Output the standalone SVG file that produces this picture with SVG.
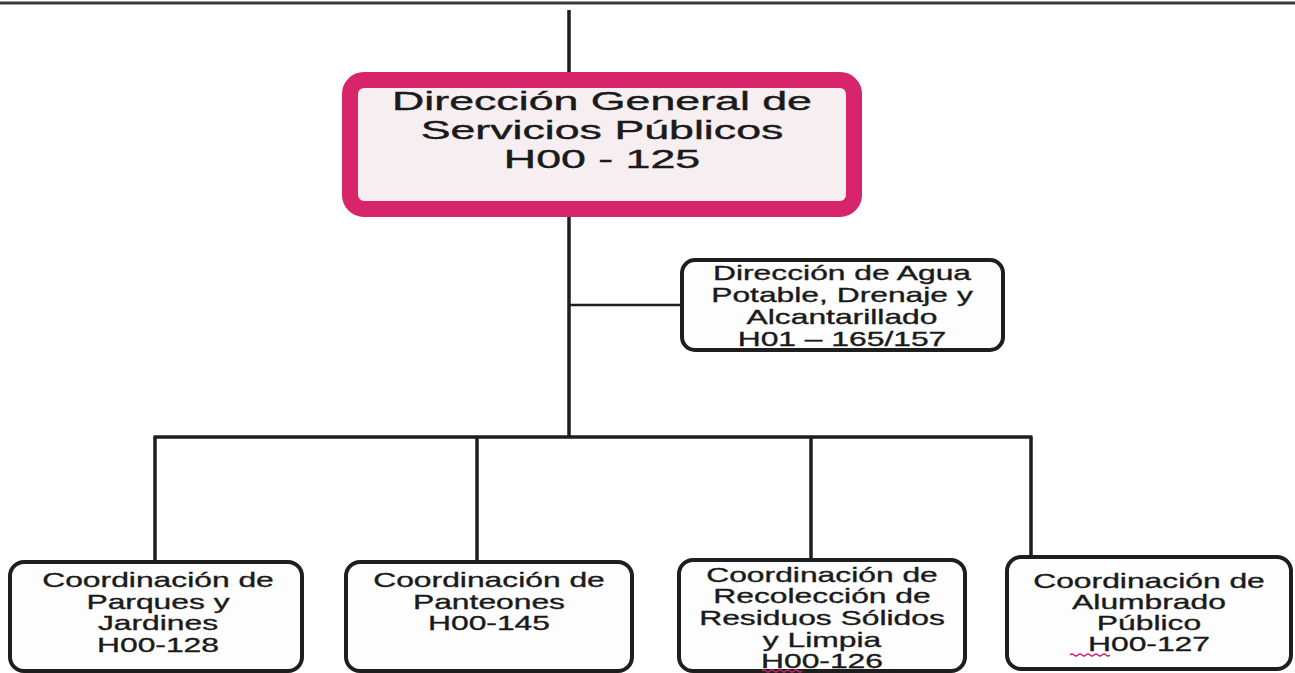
<svg xmlns="http://www.w3.org/2000/svg" width="1295" height="673" viewBox="0 0 1295 673">
  <style>
    .conn { stroke: #1e1e1e; stroke-width: 3.5; fill: none; stroke-linecap: butt; }
    .thin { stroke-width: 2.5; }
    .box { fill: #fdfdfd; stroke: #1e1e1e; stroke-width: 4; }
    .main { fill: #f6eef1; stroke: #d7246a; stroke-width: 16; }
    .t { font-family: "Liberation Sans", Arial, sans-serif; font-size: 21px; fill: #1a1a1a; stroke: #1a1a1a; stroke-width: 0.35; text-anchor: middle; }
    .tm { font-family: "Liberation Sans", Arial, sans-serif; font-size: 26px; fill: #1a1a1a; stroke: #1a1a1a; stroke-width: 0.4; text-anchor: middle; }
    .squig { stroke: #d0206a; stroke-width: 1.2; fill: none; }
  </style>
  <rect width="1295" height="673" fill="#ffffff"/>
  <line x1="0" y1="3" x2="1295" y2="3" stroke="#3a3a3a" stroke-width="3"/>

  <g id="connectors">
    <line class="conn" x1="569" y1="10" x2="569" y2="72"/>
    <line class="conn" x1="569" y1="217" x2="569" y2="437"/>
    <line class="conn thin" x1="569" y1="305" x2="682" y2="305"/>
    <line class="conn" x1="153.5" y1="437" x2="1032.5" y2="437"/>
    <line class="conn" x1="155" y1="437" x2="155" y2="562"/>
    <line class="conn" x1="477" y1="437" x2="477" y2="562"/>
    <line class="conn" x1="811" y1="437" x2="811" y2="560"/>
    <line class="conn" x1="1031" y1="437" x2="1031" y2="557"/>
  </g>

  <g id="node-dgsp">
    <rect class="main" x="350" y="80" width="504" height="129" rx="14"/>
    <g transform="translate(602,0) scale(1.72,1)">
      <text class="tm" x="0" y="110">Dirección General de</text>
      <text class="tm" x="0" y="139">Servicios Públicos</text>
      <text class="tm" x="0" y="168">H00 - 125</text>
    </g>
  </g>

  <g id="node-agua">
    <rect class="box" x="682" y="260" width="321" height="90" rx="13"/>
    <g transform="translate(842,0) scale(1.515,1)">
      <text class="t" x="0" y="280">Dirección de Agua</text>
      <text class="t" x="0" y="302">Potable, Drenaje y</text>
      <text class="t" x="0" y="324">Alcantarillado</text>
      <text class="t" x="0" y="346">H01 – 165/157</text>
    </g>
  </g>

  <g id="node-parques">
    <rect class="box" x="10" y="562" width="292" height="109" rx="14"/>
    <g transform="translate(158,0) scale(1.515,1)">
      <text class="t" x="0" y="587">Coordinación de</text>
      <text class="t" x="0" y="609">Parques y</text>
      <text class="t" x="0" y="630">Jardines</text>
      <text class="t" x="0" y="652">H00-128</text>
    </g>
  </g>

  <g id="node-panteones">
    <rect class="box" x="346" y="562" width="286" height="109" rx="14"/>
    <g transform="translate(489,0) scale(1.515,1)">
      <text class="t" x="0" y="587">Coordinación de</text>
      <text class="t" x="0" y="609">Panteones</text>
      <text class="t" x="0" y="630">H00-145</text>
    </g>
  </g>

  <g id="node-residuos">
    <rect class="box" x="679" y="560" width="286" height="111" rx="14"/>
    <g transform="translate(822,0) scale(1.515,1)">
      <text class="t" x="0" y="582">Coordinación de</text>
      <text class="t" x="0" y="603">Recolección de</text>
      <text class="t" x="0" y="625">Residuos Sólidos</text>
      <text class="t" x="0" y="647">y Limpia</text>
      <text class="t" x="0" y="668">H00-126</text>
    </g>
    <path class="squig" d="M762 671 q2 -2 4 0 t4 0 t4 0 t4 0 t4 0 t4 0 t4 0 t4 0 t4 0 t4 0"/>
  </g>

  <g id="node-alumbrado">
    <rect class="box" x="1007" y="557" width="284" height="112" rx="14"/>
    <g transform="translate(1149,0) scale(1.515,1)">
      <text class="t" x="0" y="588">Coordinación de</text>
      <text class="t" x="0" y="609">Alumbrado</text>
      <text class="t" x="0" y="630">Público</text>
      <text class="t" x="0" y="651">H00-127</text>
    </g>
    <path class="squig" d="M1070 655 q2 -2 4 0 t4 0 t4 0 t4 0 t4 0 t4 0 t4 0 t4 0 t4 0 t4 0"/>
  </g>
</svg>
